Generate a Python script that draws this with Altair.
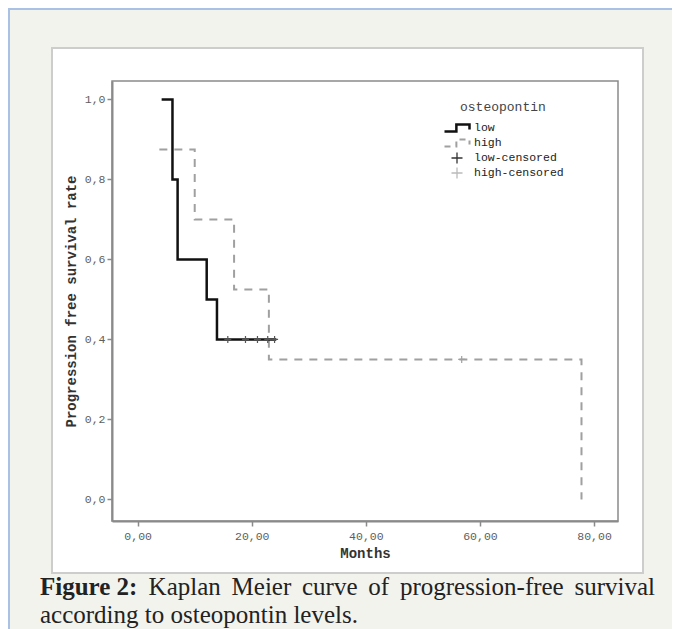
import altair as alt
import pandas as pd

# ---------------- data ----------------
low_time = [4.2, 6.1, 7.0, 12.1, 13.9, 24.3]
low_surv = [1.0, 0.8, 0.6, 0.5, 0.4, 0.4]
high_time = [3.8, 10.0, 16.9, 23.0, 77.8]
high_surv = [0.875, 0.70, 0.525, 0.35, 0.0]
low_cens_time = [15.8, 18.9, 21.0, 22.8, 24.0]
low_cens_surv = [0.4, 0.4, 0.4, 0.4, 0.4]
high_cens_time = [56.8]
high_cens_surv = [0.35]
x_ticks = [0, 20, 40, 60, 80]
y_ticks = [0.0, 0.2, 0.4, 0.6, 0.8, 1.0]
legend_title = "osteopontin"
legend_labels = ["low", "high", "low-censored", "high-censored"]
caption_bold = "Figure 2:"
caption_line1 = ["Kaplan", "Meier", "curve", "of", "progression-free", "survival"]
caption_line2 = "according to osteopontin levels."

# ---------------- layout / style ----------------
W, H = 506, 440
MONO = "Liberation Mono"
SERIF = "Liberation Serif"
FRAME = "#8a8a8a"

low_df = pd.DataFrame({"t": low_time, "s": low_surv})
high_df = pd.DataFrame({"t": high_time, "s": high_surv})
lowc_df = pd.DataFrame({"t": low_cens_time, "s": low_cens_surv})
highc_df = pd.DataFrame({"t": high_cens_time, "s": high_cens_surv})
one = pd.DataFrame({"a": [0]})

x_enc = alt.X(
    "t:Q",
    scale=alt.Scale(domain=[-4.5, 84.2], nice=False, zero=False),
    axis=alt.Axis(
        values=x_ticks, labelExpr="replace(format(datum.value, '.2f'), '.', ',')",
        title="Months", grid=False, labelFlush=False,
        domainColor=FRAME, domainWidth=2, tickColor=FRAME, tickWidth=1.5, tickSize=5,
        labelFont=MONO, labelFontSize=11.5, labelColor="#5e5e5e", labelPadding=4,
        titleFont=MONO, titleFontSize=14, titleFontWeight="bold", titleColor="#333333",
        titlePadding=5, zindex=1,
    ),
)
y_enc = alt.Y(
    "s:Q",
    scale=alt.Scale(domain=[-0.054, 1.046], nice=False, zero=False),
    axis=alt.Axis(
        values=y_ticks, labelExpr="replace(format(datum.value, '.1f'), '.', ',')",
        title="Progression free survival rate", grid=False, labelFlush=False,
        domainColor=FRAME, domainWidth=2, tickColor=FRAME, tickWidth=1.5, tickSize=5,
        labelFont=MONO, labelFontSize=11.5, labelColor="#5e5e5e", labelPadding=2,
        titleFont=MONO, titleFontSize=14, titleFontWeight="bold", titleColor="#333333",
        titlePadding=6, zindex=1,
    ),
)

layers = []

# page decorations: white figure box, blue borders
layers.append(alt.Chart(one).mark_rect(fill="white", stroke="#cdcdcd", strokeWidth=2).encode(
    x=alt.value(-60), x2=alt.value(531), y=alt.value(-33), y2=alt.value(492)))
layers.append(alt.Chart(one).mark_rule(color="#a9c1e4", strokeWidth=2).encode(
    x=alt.value(-104), x2=alt.value(560), y=alt.value(-72)))
layers.append(alt.Chart(one).mark_rule(color="#a9c1e4", strokeWidth=2).encode(
    x=alt.value(-103), y=alt.value(-73), y2=alt.value(548)))

# plot frame
layers.append(alt.Chart(one).mark_rect(fillOpacity=0, stroke=FRAME, strokeWidth=1.5).encode(
    x=alt.value(0), x2=alt.value(W), y=alt.value(0), y2=alt.value(H)))

# survival curves
layers.append(alt.Chart(high_df).mark_line(
    interpolate="step-after", color="#a0a0a0", strokeWidth=2, strokeDash=[8, 7]
).encode(x=x_enc, y=y_enc))
layers.append(alt.Chart(low_df).mark_line(
    interpolate="step-after", color="#111111", strokeWidth=2.5
).encode(x=x_enc, y=y_enc))

PLUS = "M-1,0H1M0,-1V1"
layers.append(alt.Chart(lowc_df).mark_point(
    shape=PLUS, filled=False, size=49, strokeWidth=1.2, color="#555555", opacity=1
).encode(x=x_enc, y=y_enc))
layers.append(alt.Chart(highc_df).mark_point(
    shape=PLUS, filled=False, size=49, strokeWidth=1.2, color="#a0a0a0", opacity=1
).encode(x=x_enc, y=y_enc))

# legend (manual, SPSS style)
layers.append(alt.Chart(one).mark_text(
    align="left", baseline="middle", font=MONO, fontSize=13, color="#444444"
).encode(x=alt.value(348), y=alt.value(26), text=alt.value(legend_title)))
STEP = "M-1,0.28H-0.05V-0.28H1V0.12"
layers.append(alt.Chart(one).mark_point(
    shape=STEP, filled=False, size=625, strokeWidth=2.5, color="#111111", opacity=1
).encode(x=alt.value(345), y=alt.value(47)))
layers.append(alt.Chart(one).mark_point(
    shape=STEP, filled=False, size=625, strokeWidth=2, color="#a0a0a0", opacity=1,
    strokeDash=[6, 5]
).encode(x=alt.value(345), y=alt.value(62)))
layers.append(alt.Chart(one).mark_point(
    shape=PLUS, filled=False, size=121, strokeWidth=1.3, color="#333333", opacity=1
).encode(x=alt.value(345), y=alt.value(77)))
layers.append(alt.Chart(one).mark_point(
    shape=PLUS, filled=False, size=121, strokeWidth=1.3, color="#bbbbbb", opacity=1
).encode(x=alt.value(345), y=alt.value(92)))
for lab, yy in zip(legend_labels, [47, 62, 77, 92]):
    layers.append(alt.Chart(one).mark_text(
        align="left", baseline="middle", font=MONO, fontSize=11.5, color="#222222"
    ).encode(x=alt.value(362), y=alt.value(yy), text=alt.value(lab)))

# caption
CAP1_Y, CAP2_Y = 514, 542
layers.append(alt.Chart(one).mark_text(
    align="left", baseline="alphabetic", font=SERIF, fontSize=25, fontWeight="bold", color="#222222"
).encode(x=alt.value(-72), y=alt.value(CAP1_Y), text=alt.value(caption_bold)))
word_x = [36.6, 119.6, 190.0, 256.3, 287.9, 543.0]
for w, xx in zip(caption_line1, word_x):
    al = "right" if w == caption_line1[-1] else "left"
    layers.append(alt.Chart(one).mark_text(
        align=al, baseline="alphabetic", font=SERIF, fontSize=25, color="#222222"
    ).encode(x=alt.value(xx), y=alt.value(CAP1_Y), text=alt.value(w)))
layers.append(alt.Chart(one).mark_text(
    align="left", baseline="alphabetic", font=SERIF, fontSize=25, color="#222222"
).encode(x=alt.value(-72), y=alt.value(CAP2_Y), text=alt.value(caption_line2)))

chart = alt.layer(*layers).properties(
    width=W, height=H,
    autosize=alt.AutoSizeParams(type="none"),
    padding={"left": 104, "top": 73, "right": 54, "bottom": 108},
    background="#f3f3ee",
).configure_view(strokeWidth=0)

chart.save("out.html", embed_options={"renderer": "svg", "actions": False})
